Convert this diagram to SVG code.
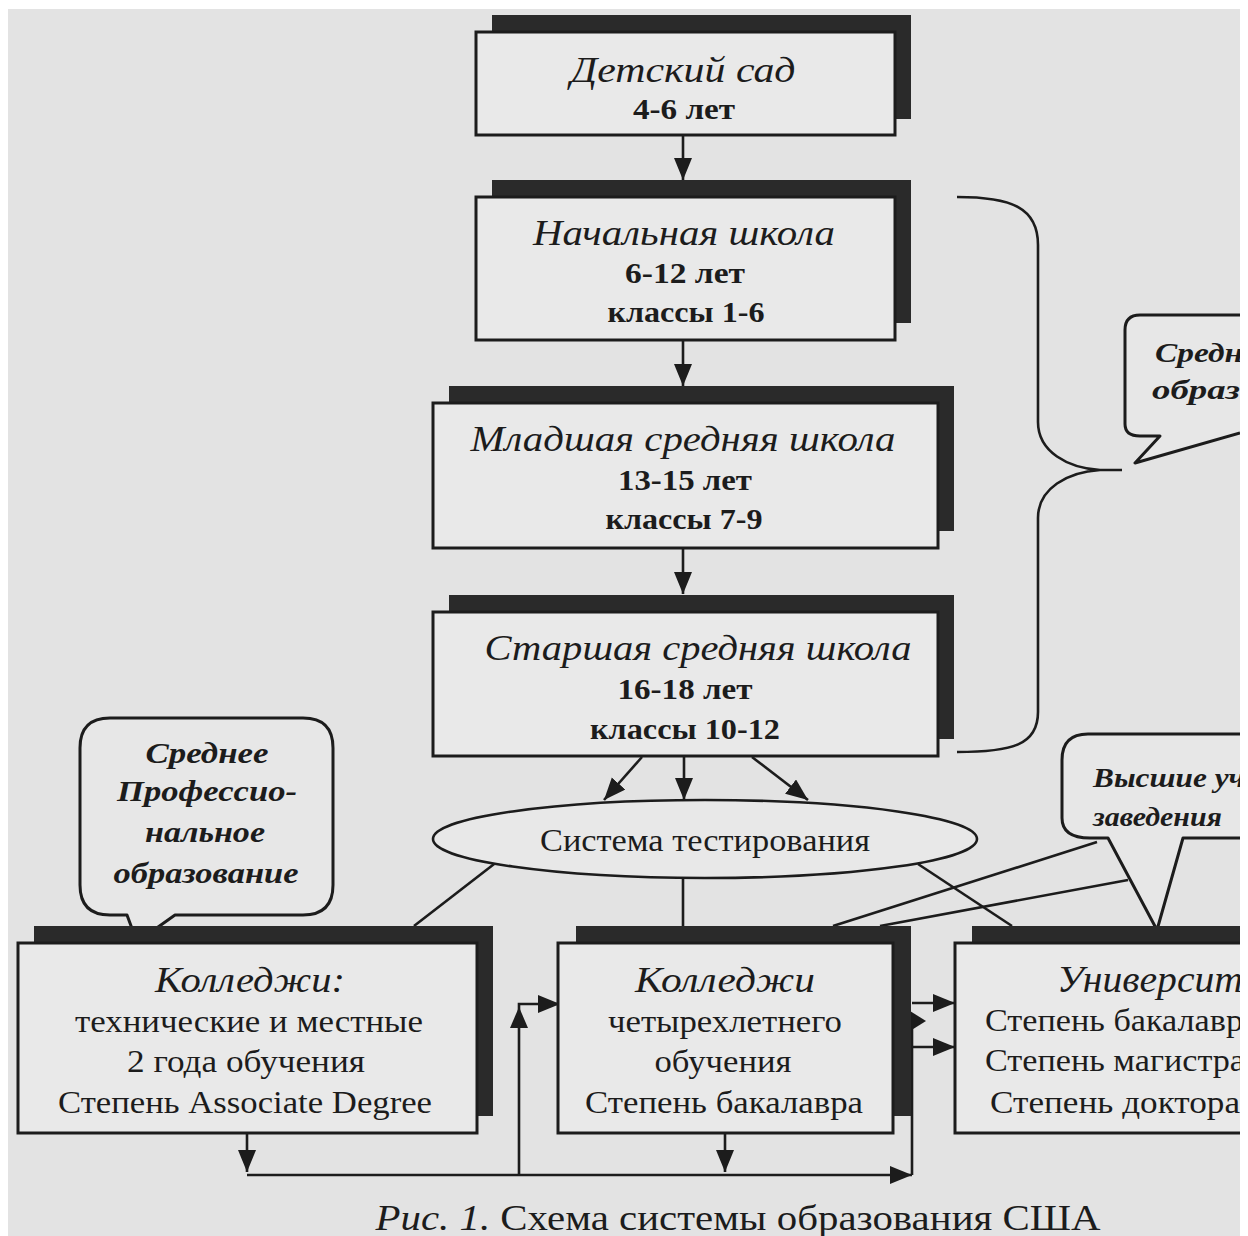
<svg xmlns="http://www.w3.org/2000/svg" width="1248" height="1236" viewBox="0 0 1248 1236">
<defs>
<style>
.t{font-family:"Liberation Serif","Times New Roman",serif;fill:#1c1c1c;text-anchor:middle}
.s{text-anchor:start}
.i{font-style:italic}
.b{font-weight:bold}
.box{fill:#e9e9e9;stroke:#1c1c1c;stroke-width:3}
.sh{fill:#2a2a2a}
.ln{fill:none;stroke:#1c1c1c;stroke-width:2.6}
.call{fill:#e7e7e7;stroke:#1c1c1c;stroke-width:3;stroke-linejoin:round}
</style>
<marker id="ah" markerUnits="userSpaceOnUse" markerWidth="24" markerHeight="20" refX="22" refY="9" orient="auto">
<path d="M0,0 L22,9 L0,18 Z" fill="#1c1c1c"/>
</marker>
<clipPath id="page"><rect x="0" y="0" width="1240" height="1236"/></clipPath>
</defs>
<rect x="0" y="0" width="1248" height="1236" fill="#ffffff"/>
<rect x="8" y="9" width="1232" height="1227" fill="#e3e3e3"/>

<g clip-path="url(#page)">
<g id="brace">
<path class="ln" d="M957,197 C1012,197 1038,208 1038,245 L1038,422 C1038,452 1068,468 1100,470 L1122,470 M1100,470 C1068,472 1038,488 1038,518 L1038,712 C1038,745 1012,752 957,752"/>
</g>

<g id="connectors">
<path class="ln" marker-end="url(#ah)" d="M683,136 V180"/>
<path class="ln" marker-end="url(#ah)" d="M683,340 V386"/>
<path class="ln" marker-end="url(#ah)" d="M683,548 V594"/>
<path class="ln" marker-end="url(#ah)" d="M684,756 V800"/>
<path class="ln" marker-end="url(#ah)" d="M642,757 L604,800"/>
<path class="ln" marker-end="url(#ah)" d="M752,757 L808,800"/>
<path class="ln" d="M683,878 V926"/>
<path class="ln" d="M498,861 L414,926"/>
<path class="ln" d="M918,864 L1012,926"/>
<path class="ln" d="M1097,842 L833,926"/>
<path class="ln" d="M1128,880 L880,926"/>
<path class="ln" marker-end="url(#ah)" d="M247,1133 V1172"/>
<path class="ln" marker-end="url(#ah)" d="M725,1133 V1172"/>
<path class="ln" marker-end="url(#ah)" d="M247,1175 H912"/>
<path class="ln" d="M912,1175 V1020"/>
<path class="ln" marker-end="url(#ah)" d="M519,1175 V1004 H560"/>
<path d="M519,1007 L510,1028 L528,1028 Z" fill="#1c1c1c"/>
<path class="ln" marker-end="url(#ah)" d="M912,1003 H955"/>
<path class="ln" marker-end="url(#ah)" d="M912,1047 H955"/>
<path d="M910,1011 L926,1021 L910,1031 Z" fill="#1c1c1c"/>
</g>

<g id="n-kindergarten">
<rect class="sh" x="492" y="15" width="419" height="104"/>
<rect class="box" x="476" y="32" width="419" height="103"/>
<text class="t i" x="683" y="82" font-size="36" textLength="225" lengthAdjust="spacingAndGlyphs">Детский сад</text>
<text class="t b" x="684" y="119" font-size="30" textLength="102" lengthAdjust="spacingAndGlyphs">4-6 лет</text>
</g>

<g id="n-primary">
<rect class="sh" x="492" y="180" width="419" height="143"/>
<rect class="box" x="476" y="197" width="419" height="143"/>
<text class="t i" x="684" y="245" font-size="36" textLength="302" lengthAdjust="spacingAndGlyphs">Начальная школа</text>
<text class="t b" x="685" y="283" font-size="30" textLength="120" lengthAdjust="spacingAndGlyphs">6-12 лет</text>
<text class="t b" x="686" y="322" font-size="30" textLength="157" lengthAdjust="spacingAndGlyphs">классы 1-6</text>
</g>

<g id="n-junior">
<rect class="sh" x="449" y="386" width="505" height="145"/>
<rect class="box" x="433" y="403" width="505" height="145"/>
<text class="t i" x="683" y="451" font-size="36" textLength="425" lengthAdjust="spacingAndGlyphs">Младшая средняя школа</text>
<text class="t b" x="685" y="490" font-size="30" textLength="134" lengthAdjust="spacingAndGlyphs">13-15 лет</text>
<text class="t b" x="684" y="529" font-size="30" textLength="157" lengthAdjust="spacingAndGlyphs">классы 7-9</text>
</g>

<g id="n-senior">
<rect class="sh" x="449" y="595" width="505" height="144"/>
<rect class="box" x="433" y="612" width="505" height="144"/>
<text class="t i" x="698" y="660" font-size="36" textLength="427" lengthAdjust="spacingAndGlyphs">Старшая средняя школа</text>
<text class="t b" x="685" y="699" font-size="30" textLength="135" lengthAdjust="spacingAndGlyphs">16-18 лет</text>
<text class="t b" x="685" y="739" font-size="30" textLength="190" lengthAdjust="spacingAndGlyphs">классы 10-12</text>
</g>

<g id="n-secondary-callout">
<path class="call" d="M1240,315 H1140 Q1125,315 1125,330 V424 Q1125,436 1140,436 H1160 L1135,463 L1240,433"/>
<text class="t i b s" x="1155" y="362" font-size="27" textLength="88" lengthAdjust="spacingAndGlyphs">Средн</text>
<text class="t i b s" x="1152" y="399" font-size="27" textLength="88" lengthAdjust="spacingAndGlyphs">образ</text>
</g>

<g id="n-testing">
<ellipse cx="705" cy="839" rx="272" ry="39" fill="#e8e8e8" stroke="#1c1c1c" stroke-width="2.6"/>
<text class="t" x="705" y="851" font-size="31" textLength="330" lengthAdjust="spacingAndGlyphs">Система тестирования</text>
</g>

<g id="n-vocational-callout">
<path class="call" d="M110,718 H303 Q333,718 333,748 V885 Q333,915 303,915 H175 L137,942 L127,915 H110 Q80,915 80,885 V748 Q80,718 110,718 Z"/>
<text class="t i b" x="207" y="763" font-size="30" textLength="123" lengthAdjust="spacingAndGlyphs">Среднее</text>
<text class="t i b" x="207" y="801" font-size="30" textLength="180" lengthAdjust="spacingAndGlyphs">Профессио-</text>
<text class="t i b" x="205" y="842" font-size="30" textLength="120" lengthAdjust="spacingAndGlyphs">нальное</text>
<text class="t i b" x="206" y="883" font-size="30" textLength="185" lengthAdjust="spacingAndGlyphs">образование</text>
</g>

<g id="n-higher-callout">
<path class="call" d="M1240,734 H1088 Q1062,734 1062,760 V818 Q1062,838 1090,838 H1108 L1157,930 L1183,838 H1240"/>
<text class="t i b s" x="1093" y="787" font-size="27" textLength="152" lengthAdjust="spacingAndGlyphs">Высшие уч</text>
<text class="t i b s" x="1093" y="826" font-size="27" textLength="129" lengthAdjust="spacingAndGlyphs">заведения</text>
</g>

<g id="n-college2">
<rect class="sh" x="34" y="926" width="459" height="190"/>
<rect class="box" x="18" y="943" width="459" height="190"/>
<text class="t i" x="250" y="992" font-size="36" textLength="190" lengthAdjust="spacingAndGlyphs">Колледжи:</text>
<text class="t" x="249" y="1032" font-size="31" textLength="348" lengthAdjust="spacingAndGlyphs">технические и местные</text>
<text class="t" x="246" y="1072" font-size="31" textLength="238" lengthAdjust="spacingAndGlyphs">2 года обучения</text>
<text class="t" x="245" y="1113" font-size="31" textLength="374" lengthAdjust="spacingAndGlyphs">Степень Associate Degree</text>
</g>

<g id="n-college4">
<rect class="sh" x="576" y="926" width="335" height="190"/>
<rect class="box" x="558" y="943" width="335" height="190"/>
<text class="t i" x="725" y="992" font-size="36" textLength="180" lengthAdjust="spacingAndGlyphs">Колледжи</text>
<text class="t" x="725" y="1032" font-size="31" textLength="234" lengthAdjust="spacingAndGlyphs">четырехлетнего</text>
<text class="t" x="723" y="1072" font-size="31" textLength="137" lengthAdjust="spacingAndGlyphs">обучения</text>
<text class="t" x="724" y="1113" font-size="31" textLength="278" lengthAdjust="spacingAndGlyphs">Степень бакалавра</text>
</g>

<g id="n-university">
<rect class="sh" x="972" y="926" width="300" height="190"/>
<rect class="box" x="955" y="943" width="300" height="190"/>
<text class="t i s" x="1057" y="992" font-size="38" textLength="186" lengthAdjust="spacingAndGlyphs">Университ</text>
<text class="t s" x="985" y="1031" font-size="32" textLength="258" lengthAdjust="spacingAndGlyphs">Степень бакалавр</text>
<text class="t s" x="985" y="1071" font-size="32" textLength="260" lengthAdjust="spacingAndGlyphs">Степень магистра</text>
<text class="t s" x="990" y="1113" font-size="32" textLength="250" lengthAdjust="spacingAndGlyphs">Степень доктора</text>
</g>
</g>

<g id="caption">
<text class="t" x="738" y="1230" font-size="36" textLength="725" lengthAdjust="spacingAndGlyphs"><tspan class="i">Рис. 1.</tspan> Схема системы образования США</text>
</g>
</svg>
